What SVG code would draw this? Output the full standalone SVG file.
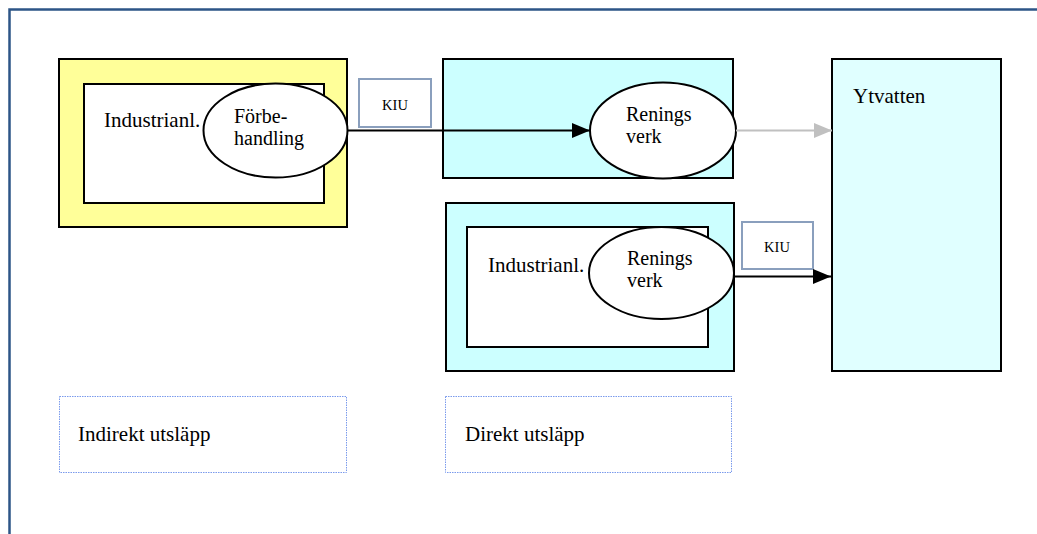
<svg xmlns="http://www.w3.org/2000/svg" width="1037" height="534" viewBox="0 0 1037 534">
<defs>
<style>
.t{font-family:"Liberation Serif","Times New Roman",serif;font-size:21px;fill:#000}
.e{font-family:"Liberation Serif","Times New Roman",serif;font-size:20px;fill:#000}
.s{font-family:"Liberation Serif","Times New Roman",serif;font-size:14.5px;fill:#000}
.box{stroke:#000;stroke-width:2}
.kiu{fill:#fff;stroke:#8a9fbd;stroke-width:2}
.lbl{fill:#fff;stroke:#7a9aec;stroke-width:1;stroke-dasharray:1.5 1}
.ell{fill:#fff;stroke:#000;stroke-width:2}
</style>
<marker id="ab" markerWidth="18" markerHeight="15" refX="18" refY="7.5" orient="auto" markerUnits="userSpaceOnUse"><path d="M0,0 L18,7.5 L0,15 Z" fill="#000"/></marker>
<marker id="ag" markerWidth="18" markerHeight="15" refX="18" refY="7.5" orient="auto" markerUnits="userSpaceOnUse"><path d="M0,0 L18,7.5 L0,15 Z" fill="#c0c0c0"/></marker>
</defs>
<rect width="1037" height="534" fill="#fff"/>
<path d="M9.5,534 V9.5 H1037" fill="none" stroke="#2d5587" stroke-width="2.5"/>
<g id="indirekt">
<rect class="box" x="59" y="59" width="288" height="168" fill="#ffff99"/>
<rect class="box" x="84" y="84" width="240" height="119" fill="#fff"/>
<text class="t" x="104" y="127">Industrianl.</text>
</g>
<g id="forbehandling">
<ellipse class="ell" cx="275.5" cy="130.5" rx="72" ry="47"/>
<text class="e" x="234" y="123">Förbe-</text>
<text class="e" x="234" y="145">handling</text>
</g>
<g id="kiu1">
<rect class="kiu" x="359" y="79" width="72" height="48"/>
<text class="s" x="395" y="110" text-anchor="middle">KIU</text>
</g>
<g id="reningsverk1">
<rect class="box" x="443" y="59" width="290" height="119" fill="#ccffff"/>
<ellipse class="ell" cx="663" cy="130.5" rx="73" ry="48"/>
<text class="e" x="626" y="121">Renings</text>
<text class="e" x="626" y="143">verk</text>
</g>
<g id="direkt">
<rect class="box" x="446" y="203" width="288" height="168" fill="#ccffff"/>
<rect class="box" x="467" y="227" width="241" height="120" fill="#fff"/>
<text class="t" x="488" y="272">Industrianl.</text>
</g>
<g id="reningsverk2">
<ellipse class="ell" cx="661.5" cy="273" rx="72.5" ry="46"/>
<text class="e" x="627" y="265">Renings</text>
<text class="e" x="627" y="287">verk</text>
</g>
<g id="kiu2">
<rect class="kiu" x="742" y="222" width="71" height="47"/>
<text class="s" x="777" y="252" text-anchor="middle">KIU</text>
</g>
<g id="ytvatten">
<rect class="box" x="832" y="59" width="169" height="312" fill="#e0ffff"/>
<text class="t" x="853" y="103">Ytvatten</text>
</g>
<g id="label-indirekt">
<rect class="lbl" x="59.5" y="396.5" width="287" height="76"/>
<text class="t" x="78" y="441">Indirekt utsläpp</text>
</g>
<g id="label-direkt">
<rect class="lbl" x="445.5" y="396.5" width="286" height="76"/>
<text class="t" x="465" y="441">Direkt utsläpp</text>
</g>
<g id="connectors" fill="none">
<line x1="348" y1="130.5" x2="590" y2="130.5" stroke="#000" stroke-width="2" marker-end="url(#ab)"/>
<line x1="736" y1="130.5" x2="832" y2="130.5" stroke="#c0c0c0" stroke-width="2" marker-end="url(#ag)"/>
<line x1="734" y1="276.5" x2="831" y2="276.5" stroke="#000" stroke-width="2" marker-end="url(#ab)"/>
</g>
</svg>
